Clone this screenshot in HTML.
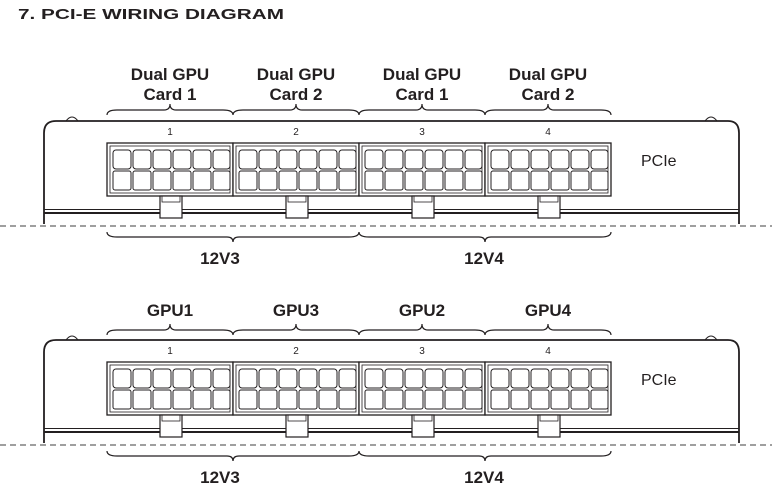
<!DOCTYPE html>
<html><head><meta charset="utf-8"><style>
html,body{margin:0;padding:0;background:#fff;}
svg{display:block;}
text{font-family:"Liberation Sans",Arial,sans-serif;fill:#231f20;}
</style></head><body>
<svg width="772" height="504" viewBox="0 0 772 504" xmlns="http://www.w3.org/2000/svg">
<defs>
<g id="conn">
  <rect x="0" y="0" width="126" height="53" fill="#fff" stroke="#231f20" stroke-width="1.3"/>
  <rect x="3" y="3" width="120" height="47" fill="none" stroke="#231f20" stroke-width="0.8"/>
  <g fill="#fff" stroke="#231f20" stroke-width="1">
    <rect x="6" y="7" width="18" height="19" rx="3"/><rect x="26" y="7" width="18" height="19" rx="3"/>
    <rect x="46" y="7" width="18" height="19" rx="3"/><rect x="66" y="7" width="18" height="19" rx="3"/>
    <rect x="86" y="7" width="18" height="19" rx="3"/><rect x="106" y="7" width="17" height="19" rx="3"/>
    <rect x="6" y="28" width="18" height="19" rx="2"/><rect x="26" y="28" width="18" height="19" rx="2"/>
    <rect x="46" y="28" width="18" height="19" rx="2"/><rect x="66" y="28" width="18" height="19" rx="2"/>
    <rect x="86" y="28" width="18" height="19" rx="2"/><rect x="106" y="28" width="17" height="19" rx="2"/>
  </g>
  <rect x="53" y="53" width="22" height="22" fill="#fff" stroke="#231f20" stroke-width="1.2"/>
  <rect x="55" y="53" width="18" height="6" fill="none" stroke="#231f20" stroke-width="0.8"/>
</g>
<g id="panel">
  <path d="M44,224 L44,133 Q44,121 56,121 L728,121 Q739,121 739,133 L739,224" fill="none" stroke="#231f20" stroke-width="1.8"/>
  <path d="M66,121 Q72,113 78,121 M705,121 Q711,113 717,121" fill="none" stroke="#231f20" stroke-width="1"/>
  <line x1="44" y1="209.5" x2="739" y2="209.5" stroke="#231f20" stroke-width="1"/>
  <line x1="44" y1="213" x2="739" y2="213" stroke="#231f20" stroke-width="2"/>
  <use href="#conn" x="107" y="143"/>
  <use href="#conn" x="233" y="143"/>
  <use href="#conn" x="359" y="143"/>
  <use href="#conn" x="485" y="143"/>
  <g font-size="10" text-anchor="middle" fill="#555"><text x="170" y="135">1</text><text x="296" y="135">2</text><text x="422" y="135">3</text><text x="548" y="135">4</text></g>
  <text x="641" y="166" font-size="16" fill="#333">PCIe</text>
  <line x1="0" y1="226" x2="772" y2="226" stroke="#666" stroke-width="1.2" stroke-dasharray="6,4"/>
  <g fill="none" stroke="#231f20" stroke-width="1.2">
    <path d="M107,232 Q107,237 117,237 L227,237 Q233,237 233,242 Q233,237 239,237 L349,237 Q359,237 359,232"/>
    <path d="M359,232 Q359,237 369,237 L479,237 Q485,237 485,242 Q485,237 491,237 L601,237 Q611,237 611,232"/>
  </g>
  <g font-size="17" font-weight="bold" text-anchor="middle"><text x="220" y="264">12V3</text><text x="484" y="264">12V4</text></g>
</g>
<g id="tb" fill="none" stroke="#231f20" stroke-width="1.2">
  <path d="M107,115 Q107,110 117,110 L164,110 Q170,110 170,104 Q170,110 176,110 L223,110 Q233,110 233,115"/>
  <path d="M233,115 Q233,110 243,110 L290,110 Q296,110 296,104 Q296,110 302,110 L349,110 Q359,110 359,115"/>
  <path d="M359,115 Q359,110 369,110 L416,110 Q422,110 422,104 Q422,110 428,110 L475,110 Q485,110 485,115"/>
  <path d="M485,115 Q485,110 495,110 L542,110 Q548,110 548,104 Q548,110 554,110 L601,110 Q611,110 611,115"/>
</g>
</defs>
<text x="18" y="19" font-size="15" font-weight="bold" textLength="266" lengthAdjust="spacingAndGlyphs">7.   PCI-E WIRING DIAGRAM</text>
<g font-size="17" font-weight="bold" text-anchor="middle">
  <text x="170" y="80">Dual GPU</text><text x="170" y="100">Card 1</text>
  <text x="296" y="80">Dual GPU</text><text x="296" y="100">Card 2</text>
  <text x="422" y="80">Dual GPU</text><text x="422" y="100">Card 1</text>
  <text x="548" y="80">Dual GPU</text><text x="548" y="100">Card 2</text>
</g>
<use href="#tb"/>
<use href="#panel"/>
<g font-size="17" font-weight="bold" text-anchor="middle">
  <text x="170" y="316">GPU1</text><text x="296" y="316">GPU3</text>
  <text x="422" y="316">GPU2</text><text x="548" y="316">GPU4</text>
</g>
<use href="#tb" y="220"/>
<use href="#panel" y="219"/>
</svg>
</body></html>
